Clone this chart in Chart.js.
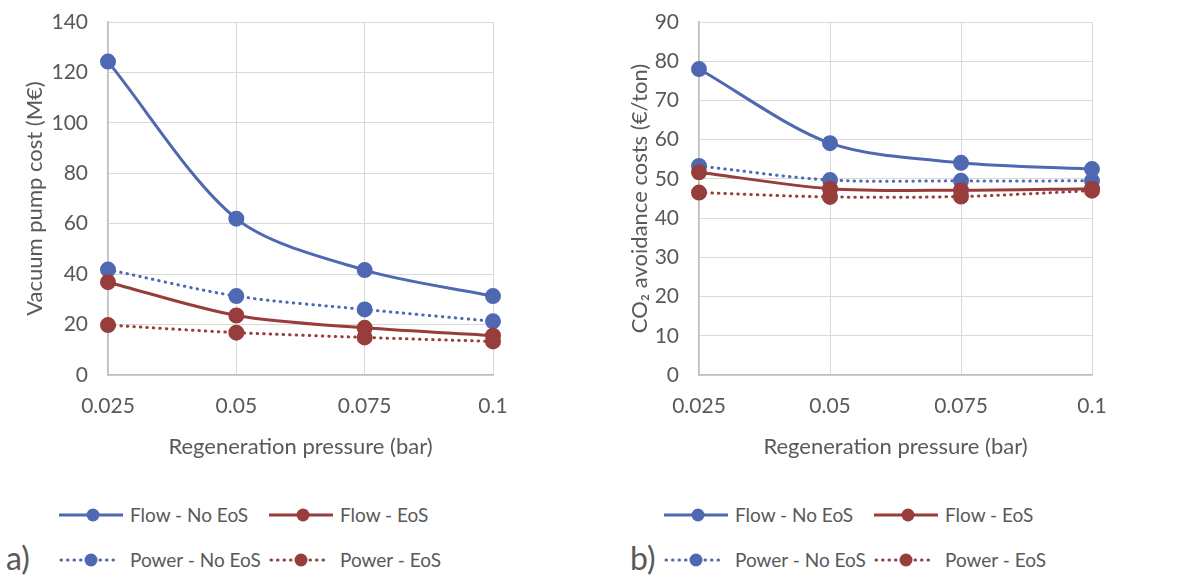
<!DOCTYPE html>
<html>
<head>
<meta charset="utf-8">
<script src="https://cdn.jsdelivr.net/npm/chart.js@4"></script>
<style>
  body { margin: 0; background: #fff; width: 1177px; height: 577px; overflow: hidden; position: relative; font-family: Lato, "Noto Sans", sans-serif; color: #595959; }
  .box { position: absolute; top: 0; height: 470px; }
  .leg { position: absolute; font-size: 19px; white-space: nowrap; line-height: 1; }
  .leg svg { position: absolute; }
  .panel { position: absolute; font-size: 32px; }
</style>
</head>
<body>
<div class="box" style="left:0;width:580px"><canvas id="graficoA"></canvas></div>
<div class="box" style="left:590px;width:587px"><canvas id="graficoB"></canvas></div>
<div id="legendas"></div>

<script>
// valores
const pressoes = ['0.025', '0.05', '0.075', '0.1'];
const nomes = ['Flow - No EoS', 'Flow - EoS', 'Power - No EoS', 'Power - EoS'];

// a) custo da bomba de vácuo (M€)
const bombaFlowNoEos = [124.3, 62.0, 41.6, 31.3];
const bombaFlowEos = [36.8, 23.6, 18.7, 15.6];
const bombaPowerNoEos = [41.8, 31.3, 26.0, 21.3];
const bombaPowerEos = [19.8, 16.8, 14.9, 13.3];

// b) custo de CO2 evitado (€/ton)
const co2FlowNoEos = [78.0, 59.1, 54.1, 52.5];
const co2FlowEos = [51.7, 47.5, 47.1, 47.5];
const co2PowerNoEos = [53.3, 49.7, 49.5, 49.5];
const co2PowerEos = [46.5, 45.4, 45.5, 47.0];

const azul = '#4f68b2';
const vermelho = '#973d3b';
const cinza = '#595959';
const fonte = 'Lato, "Noto Sans", sans-serif';

function serie(label, data, cor, pontilhada) {
    return {
        label: label,
        data: data,
        borderColor: cor,
        backgroundColor: cor,
        pointBackgroundColor: cor,
        pointBorderColor: cor,
        borderWidth: 3,
        borderDash: pontilhada ? [0.5, 6] : [],
        borderCapStyle: pontilhada ? 'round' : 'butt',
        pointRadius: 6.5,
        pointHoverRadius: 6.5,
        tension: 0.3,
        fill: false
    };
}

function criarGrafico(id, series, tituloY, maxY, passo, larguraY, direita, paddingTitulo) {
    const ctx = document.getElementById(id).getContext('2d');
    return new Chart(ctx, {
        type: 'line',
        data: {
            labels: pressoes,
            datasets: [
                serie(nomes[0], series[0], azul, false),
                serie(nomes[1], series[1], vermelho, false),
                serie(nomes[2], series[2], azul, true),
                serie(nomes[3], series[3], vermelho, true)
            ]
        },
        options: {
            responsive: true,
            maintainAspectRatio: false,
            animation: false,
            layout: { autoPadding: false, padding: { left: 0, top: 22, right: direita, bottom: 0 } },
            plugins: { legend: { display: false }, tooltip: { enabled: false } },
            scales: {
                x: {
                    type: 'category',
                    offset: false,
                    grid: { color: '#d9d9d9', drawTicks: false },
                    border: { color: '#bfbfbf', width: 1.5 },
                    ticks: { color: cinza, padding: 19, font: { family: fonte, size: 21 }, maxRotation: 0, autoSkip: false },
                    title: { display: true, text: 'Regeneration pressure (bar)', color: cinza, font: { family: fonte, size: 22 }, padding: { top: 0, bottom: 10 } },
                    afterFit: function(scale) { scale.height = 95; scale.paddingLeft = 0; scale.paddingRight = 0; }
                },
                y: {
                    min: 0,
                    max: maxY,
                    grid: { color: '#d9d9d9', drawTicks: false },
                    border: { color: '#bfbfbf', width: 1.5 },
                    ticks: { stepSize: passo, color: cinza, padding: 20, font: { family: fonte, size: 21 } },
                    title: { display: true, text: tituloY, color: cinza, font: { family: fonte, size: 22 }, padding: { top: paddingTitulo, bottom: 0 } },
                    afterFit: function(scale) { scale.width = larguraY; scale.paddingTop = 0; scale.paddingBottom = 0; }
                }
            }
        }
    });
}

function simbolo(cor, pontilhada, largura) {
    const linha = pontilhada
        ? `<line x1="2" y1="10" x2="${largura - 2}" y2="10" stroke="${cor}" stroke-width="3" stroke-dasharray="0.5 6" stroke-linecap="round"/>`
        : `<line x1="0" y1="10" x2="${largura}" y2="10" stroke="${cor}" stroke-width="3"/>`;
    return `<svg width="${largura}" height="20" style="left:0;top:0">${linha}<circle cx="${largura / 2 + 2}" cy="10" r="6.5" fill="${cor}"/></svg>`;
}

function montarLegenda(x0, letra) {
    const itens = [
        { nome: nomes[0], cor: azul, pont: false, x: 59, y: 505, larg: 64 },
        { nome: nomes[1], cor: vermelho, pont: false, x: 269, y: 505, larg: 64 },
        { nome: nomes[2], cor: azul, pont: true, x: 59, y: 550, larg: 60 },
        { nome: nomes[3], cor: vermelho, pont: true, x: 269, y: 550, larg: 60 }
    ];
    const alvo = document.getElementById('legendas');
    itens.forEach(item => {
        const div = document.createElement('div');
        div.className = 'leg';
        div.style.left = (x0 + item.x) + 'px';
        div.style.top = item.y + 'px';
        div.innerHTML = simbolo(item.cor, item.pont, item.larg) +
            `<span style="position:absolute;left:71px;top:0">${item.nome}</span>`;
        alvo.appendChild(div);
    });
    const rotulo = document.createElement('div');
    rotulo.className = 'panel';
    rotulo.style.left = (x0 + (letra === 'a)' ? 6 : 25)) + 'px';
    rotulo.style.top = '538px';
    rotulo.textContent = letra;
    alvo.appendChild(rotulo);
}

document.addEventListener('DOMContentLoaded', function() {
    criarGrafico('graficoA', [bombaFlowNoEos, bombaFlowEos, bombaPowerNoEos, bombaPowerEos],
        'Vacuum pump cost (M€)', 140, 20, 108, 87, 22);
    criarGrafico('graficoB', [co2FlowNoEos, co2FlowEos, co2PowerNoEos, co2PowerEos],
        'CO₂ avoidance costs (€/ton)', 90, 10, 109, 85, 37);
    montarLegenda(0, 'a)');
    montarLegenda(605, 'b)');
});
</script>
</body>
</html>
